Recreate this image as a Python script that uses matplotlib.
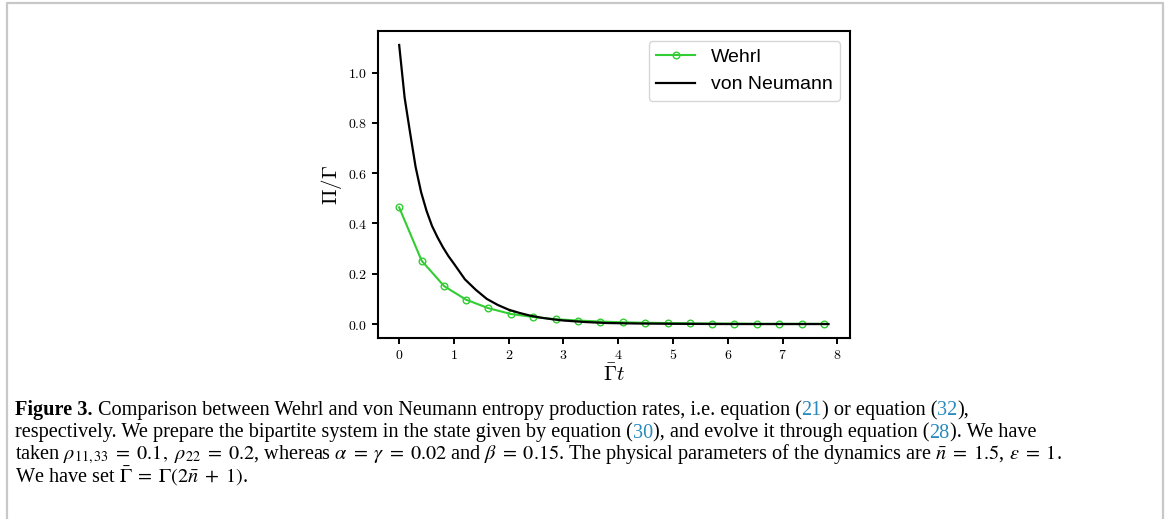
import numpy as np
import matplotlib
matplotlib.use('Agg')
import matplotlib.pyplot as plt
from matplotlib.ticker import FuncFormatter, MultipleLocator
from matplotlib.lines import Line2D

plt.rcParams['mathtext.fontset'] = 'cm'

# Wehrl entropy production rate (markers)
t_wehrl = [0.0, 0.41, 0.82, 1.22, 1.63, 2.04, 2.45, 2.86, 3.27, 3.67,
           4.08, 4.49, 4.90, 5.31, 5.71, 6.12, 6.53, 6.94, 7.35, 7.76]
wehrl = [0.464, 0.252, 0.151, 0.097, 0.063, 0.040, 0.028, 0.019, 0.014, 0.010,
         0.007, 0.005, 0.004, 0.003, 0.002, 0.002, 0.001, 0.001, 0.001, 0.001]

# von Neumann entropy production rate
t_vn = [0.0, 0.1, 0.2, 0.3, 0.4, 0.5, 0.6, 0.7, 0.8, 0.9, 1.0, 1.2, 1.4, 1.6,
        1.8, 2.0, 2.2, 2.4, 2.6, 2.8, 3.0, 3.4, 3.8, 4.4, 5.0, 6.0, 7.0, 7.84]
vn = [1.11, 0.90, 0.76, 0.625, 0.525, 0.45, 0.39, 0.345, 0.305, 0.27, 0.24,
      0.178, 0.136, 0.100, 0.076, 0.057, 0.044, 0.033, 0.025, 0.019, 0.014,
      0.008, 0.004, 0.002, 0.001, 0.0, 0.0, 0.0]

W, H = 1167, 519
fig = plt.figure(figsize=(W / 100, H / 100), dpi=100)

# light grey frame around the figure panel
fig.add_artist(Line2D([7 / W, 7 / W, 1163 / W, 1163 / W], [-0.1, 1 - 3 / H, 1 - 3 / H, -0.1],
                      transform=fig.transFigure, color='#c8c8c8', lw=1.6))

ax = fig.add_axes([377.7 / W, 1 - 338 / H, (850 - 377.7) / W, (338 - 31) / H])
ax.plot(t_wehrl, wehrl, color='limegreen', lw=1.5, marker='o', ms=4.8,
        mfc='none', mew=1.0, label='Wehrl')
ax.plot(t_vn, vn, color='black', lw=1.6, label='von Neumann')

ax.xaxis.set_major_locator(MultipleLocator(1))
ax.yaxis.set_major_locator(MultipleLocator(0.2))
ax.xaxis.set_major_formatter(FuncFormatter(lambda v, p: f'${v:.0f}$'))
ax.yaxis.set_major_formatter(FuncFormatter(lambda v, p: f'${v:.1f}$'))
ax.tick_params(width=1.4, length=4, labelsize=10)
for s in ax.spines.values():
    s.set_linewidth(1.5)

ax.set_xlabel(r'$\bar{\Gamma}t$', fontsize=15, labelpad=1)
ax.set_ylabel(r'$\Pi/\Gamma$', fontsize=15, labelpad=3)
ax.legend(loc='upper right', prop={'family': 'Liberation Sans', 'size': 14})

# caption, drawn piece by piece so the equation numbers can be blue
blue = '#2a8abf'
cap_size = 14.6
lines = [
    [('Figure 3.', 'k', 'bold'),
     (' Comparison between Wehrl and von Neumann entropy production rates, i.e. equation (', 'k', 'normal'),
     ('21', blue, 'normal'), (') or equation (', 'k', 'normal'), ('32', blue, 'normal'),
     ('),', 'k', 'normal')],
    [('respectively. We prepare the bipartite system in the state given by equation (', 'k', 'normal'),
     ('30', blue, 'normal'), ('), and evolve it through equation (', 'k', 'normal'),
     ('28', blue, 'normal'), ('). We have', 'k', 'normal')],
    [(r'taken $\rho_{11,33}\;=\;0.1,\ \rho_{22}\;=\;0.2$, whereas $\alpha\;=\;\gamma\;=\;0.02$ and '
      r'$\beta\;=\;0.15$. The physical parameters of the dynamics are $\bar{n}\;=\;1.5$, '
      r'$\varepsilon\;=\;1$.', 'k', 'normal')],
    [(r'We have set $\bar{\Gamma}\;=\;\Gamma(2\bar{n}\;+\;1)$.', 'k', 'normal')],
]
baselines = [415, 437.5, 459.5, 482.5]

renderer = fig.canvas.get_renderer()
for segs, yb in zip(lines, baselines):
    x = 15
    for txt, col, wt in segs:
        gap = 0
        if txt.startswith(' '):
            txt = txt[1:]
            gap = cap_size * 100 / 72 * 0.25
        x += gap
        t = fig.text(x / W, 1 - yb / H, txt, color=col, fontweight=wt,
                     family='Liberation Serif', fontsize=cap_size,
                     math_fontfamily='stix', va='baseline', ha='left')
        x += t.get_window_extent(renderer).width

fig.savefig('out.png', dpi=100)
